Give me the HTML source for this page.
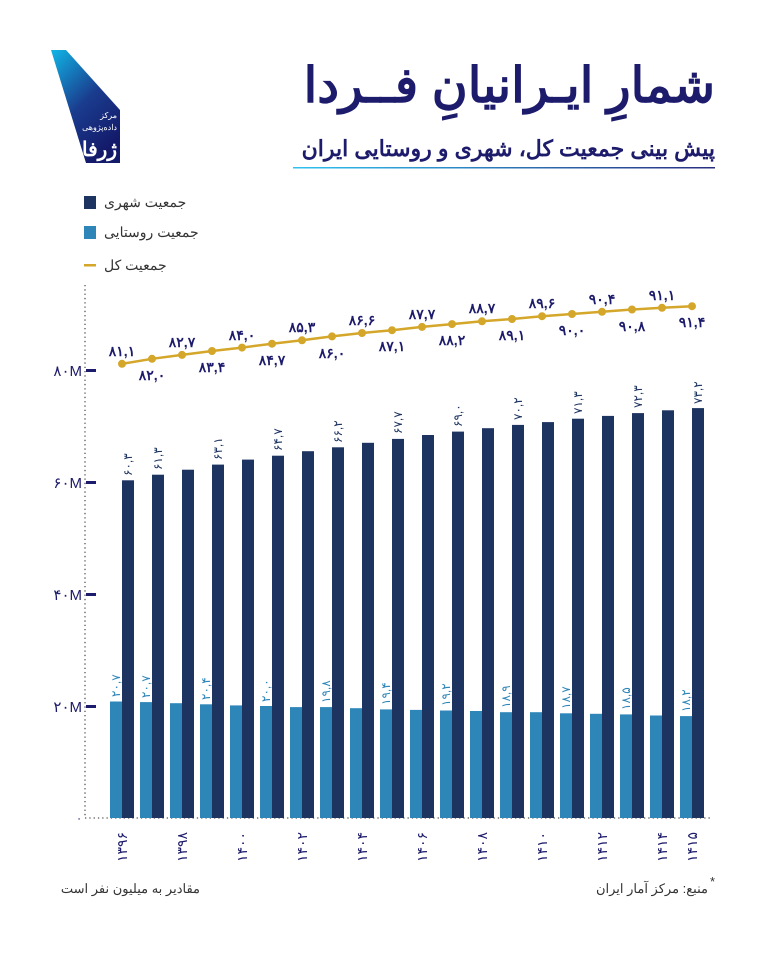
<!DOCTYPE html>
<html><head><meta charset="utf-8"><style>
body{margin:0;background:#fff;}
svg{display:block;font-family:"Liberation Sans","Noto Sans CJK SC",sans-serif;}
</style></head><body>
<svg width="768" height="960" viewBox="0 0 768 960" xmlns="http://www.w3.org/2000/svg">
<defs>
<linearGradient id="lg" x1="0" y1="0" x2="0.6" y2="1"><stop offset="0" stop-color="#10b6e6"/><stop offset="0.55" stop-color="#1a3c8e"/><stop offset="1" stop-color="#141a6a"/></linearGradient>
<linearGradient id="ul" x1="0" x2="1"><stop offset="0" stop-color="#2fc3ef"/><stop offset="1" stop-color="#2a2d80"/></linearGradient>
</defs>
<rect width="768" height="960" fill="#fff"/>
<polygon points="51,50 66,50 120,110 120,163 86,163" fill="url(#lg)"/>
<text x="117" y="118" font-size="8" fill="#fff" text-anchor="end">مرکز</text>
<text x="117" y="130" font-size="8" fill="#fff" text-anchor="end">داده‌پژوهی</text>
<text x="117" y="156" font-size="20" font-weight="bold" fill="#fff" text-anchor="end">ژرفا</text>
<text x="715" y="102" font-size="49" font-weight="bold" fill="#1d1b6b" text-anchor="end">شمارِ ایـرانیانِ فــردا</text>
<text x="715" y="156" font-size="22" font-weight="bold" fill="#1d1b6b" text-anchor="end">پیش بینی جمعیت کل، شهری و روستایی ایران</text>
<rect x="293" y="167" width="422" height="1.5" fill="url(#ul)"/>
<rect x="84" y="196" width="12" height="13" fill="#1d3461"/>
<text x="104" y="207" font-size="14" fill="#333">جمعیت شهری</text>
<rect x="84" y="226" width="12" height="13" fill="#2e86b8"/>
<text x="104" y="237" font-size="14" fill="#333">جمعیت روستایی</text>
<rect x="84" y="264" width="12" height="2.5" fill="#d4a62a"/>
<text x="104" y="270" font-size="14" fill="#333">جمعیت کل</text>
<line x1="85" y1="285" x2="85" y2="818" stroke="#555" stroke-width="1.3" stroke-dasharray="1.3,3"/>
<line x1="85" y1="818" x2="712" y2="818" stroke="#555" stroke-width="1.3" stroke-dasharray="1.3,3"/>
<g fill="#1d1b6b" font-size="15" text-anchor="end">
<rect x="86" y="369" width="10" height="3"/><text x="82" y="376">۸۰M</text>
<rect x="86" y="481" width="10" height="3"/><text x="82" y="488">۶۰M</text>
<rect x="86" y="593" width="10" height="3"/><text x="82" y="600">۴۰M</text>
<rect x="86" y="705" width="10" height="3"/><text x="82" y="712">۲۰M</text>
<text x="82" y="822" font-size="11">۰</text>
</g>
<g fill="#2e86b8">
<rect x="110" y="701.5" width="12" height="116.5"/><rect x="140" y="702.1" width="12" height="115.9"/><rect x="170" y="703.2" width="12" height="114.8"/><rect x="200" y="704.3" width="12" height="113.7"/><rect x="230" y="705.4" width="12" height="112.6"/><rect x="260" y="706" width="12" height="112"/><rect x="290" y="707.1" width="12" height="110.9"/><rect x="320" y="707.1" width="12" height="110.9"/><rect x="350" y="708.2" width="12" height="109.8"/><rect x="380" y="709.4" width="12" height="108.6"/><rect x="410" y="709.9" width="12" height="108.1"/><rect x="440" y="710.5" width="12" height="107.5"/><rect x="470" y="711" width="12" height="107"/><rect x="500" y="712.2" width="12" height="105.8"/><rect x="530" y="712.2" width="12" height="105.8"/><rect x="560" y="713.3" width="12" height="104.7"/><rect x="590" y="713.8" width="12" height="104.2"/><rect x="620" y="714.4" width="12" height="103.6"/><rect x="650" y="715.5" width="12" height="102.5"/><rect x="680" y="716.1" width="12" height="101.9"/>
</g>
<g fill="#1d3461">
<rect x="122" y="480.3" width="12" height="337.7"/><rect x="152" y="474.7" width="12" height="343.3"/><rect x="182" y="469.7" width="12" height="348.3"/><rect x="212" y="464.6" width="12" height="353.4"/><rect x="242" y="459.6" width="12" height="358.4"/><rect x="272" y="455.7" width="12" height="362.3"/><rect x="302" y="451.2" width="12" height="366.8"/><rect x="332" y="447.3" width="12" height="370.7"/><rect x="362" y="442.8" width="12" height="375.2"/><rect x="392" y="438.9" width="12" height="379.1"/><rect x="422" y="435" width="12" height="383"/><rect x="452" y="431.6" width="12" height="386.4"/><rect x="482" y="428.2" width="12" height="389.8"/><rect x="512" y="424.9" width="12" height="393.1"/><rect x="542" y="422.1" width="12" height="395.9"/><rect x="572" y="418.7" width="12" height="399.3"/><rect x="602" y="415.9" width="12" height="402.1"/><rect x="632" y="413.1" width="12" height="404.9"/><rect x="662" y="410.3" width="12" height="407.7"/><rect x="692" y="408.1" width="12" height="409.9"/>
</g>
<g fill="#1d3461" font-size="12">
<text transform="translate(132,476) rotate(-90)">۶۰,۳</text>
<text transform="translate(162,470) rotate(-90)">۶۱,۳</text>
<text transform="translate(222,460) rotate(-90)">۶۳,۱</text>
<text transform="translate(282,451) rotate(-90)">۶۴,۷</text>
<text transform="translate(342,443) rotate(-90)">۶۶,۲</text>
<text transform="translate(402,434) rotate(-90)">۶۷,۷</text>
<text transform="translate(462,427) rotate(-90)">۶۹,۰</text>
<text transform="translate(522,420) rotate(-90)">۷۰,۲</text>
<text transform="translate(582,414) rotate(-90)">۷۱,۳</text>
<text transform="translate(642,408) rotate(-90)">۷۲,۳</text>
<text transform="translate(702,404) rotate(-90)">۷۳,۲</text>
</g>
<g fill="#2e86b8" font-size="12">
<text transform="translate(120,697) rotate(-90)">۲۰,۷</text>
<text transform="translate(150,698) rotate(-90)">۲۰,۷</text>
<text transform="translate(210,700) rotate(-90)">۲۰,۴</text>
<text transform="translate(270,702) rotate(-90)">۲۰,۰</text>
<text transform="translate(330,703) rotate(-90)">۱۹,۸</text>
<text transform="translate(390,705) rotate(-90)">۱۹,۴</text>
<text transform="translate(450,706) rotate(-90)">۱۹,۲</text>
<text transform="translate(510,708) rotate(-90)">۱۸,۹</text>
<text transform="translate(570,709) rotate(-90)">۱۸,۷</text>
<text transform="translate(630,710) rotate(-90)">۱۸,۵</text>
<text transform="translate(690,712) rotate(-90)">۱۸,۲</text>
</g>
<polyline fill="none" stroke="#d4a62a" stroke-width="2.5" points="122,363.8 152,358.8 182,354.9 212,351 242,347.6 272,343.7 302,340.3 332,336.4 362,333 392,330.2 422,326.9 452,324.1 482,321.3 512,319 542,316.2 572,314 602,311.8 632,309.5 662,307.8 692,306.2"/>
<g fill="#d4a62a">
<circle cx="122" cy="363.8" r="4"/><circle cx="152" cy="358.8" r="4"/><circle cx="182" cy="354.9" r="4"/><circle cx="212" cy="351" r="4"/><circle cx="242" cy="347.6" r="4"/><circle cx="272" cy="343.7" r="4"/><circle cx="302" cy="340.3" r="4"/><circle cx="332" cy="336.4" r="4"/><circle cx="362" cy="333" r="4"/><circle cx="392" cy="330.2" r="4"/><circle cx="422" cy="326.9" r="4"/><circle cx="452" cy="324.1" r="4"/><circle cx="482" cy="321.3" r="4"/><circle cx="512" cy="319" r="4"/><circle cx="542" cy="316.2" r="4"/><circle cx="572" cy="314" r="4"/><circle cx="602" cy="311.8" r="4"/><circle cx="632" cy="309.5" r="4"/><circle cx="662" cy="307.8" r="4"/><circle cx="692" cy="306.2" r="4"/>
</g>
<g fill="#1d1b6b" font-size="14" font-weight="bold" text-anchor="middle">
<text x="122" y="356">۸۱,۱</text><text x="152" y="380">۸۲,۰</text>
<text x="182" y="347">۸۲,۷</text><text x="212" y="372">۸۳,۴</text>
<text x="242" y="340">۸۴,۰</text><text x="272" y="365">۸۴,۷</text>
<text x="302" y="332">۸۵,۳</text><text x="332" y="358">۸۶,۰</text>
<text x="362" y="325">۸۶,۶</text><text x="392" y="351">۸۷,۱</text>
<text x="422" y="319">۸۷,۷</text><text x="452" y="345">۸۸,۲</text>
<text x="482" y="313">۸۸,۷</text><text x="512" y="340">۸۹,۱</text>
<text x="542" y="308">۸۹,۶</text><text x="572" y="335">۹۰,۰</text>
<text x="602" y="304">۹۰,۴</text><text x="632" y="331">۹۰,۸</text>
<text x="662" y="300">۹۱,۱</text><text x="692" y="327">۹۱,۴</text>
</g>
<g fill="#1d1b6b" font-size="14">
<text transform="translate(127,862) rotate(-90)">۱۳۹۶</text>
<text transform="translate(187,862) rotate(-90)">۱۳۹۸</text>
<text transform="translate(247,862) rotate(-90)">۱۴۰۰</text>
<text transform="translate(307,862) rotate(-90)">۱۴۰۲</text>
<text transform="translate(367,862) rotate(-90)">۱۴۰۴</text>
<text transform="translate(427,862) rotate(-90)">۱۴۰۶</text>
<text transform="translate(487,862) rotate(-90)">۱۴۰۸</text>
<text transform="translate(547,862) rotate(-90)">۱۴۱۰</text>
<text transform="translate(607,862) rotate(-90)">۱۴۱۲</text>
<text transform="translate(667,862) rotate(-90)">۱۴۱۴</text>
<text transform="translate(697,862) rotate(-90)">۱۴۱۵</text>
</g>
<text x="200" y="893" font-size="13" fill="#333" text-anchor="end">مقادیر به میلیون نفر است</text>
<text x="708" y="893" font-size="13" fill="#333" text-anchor="end">منبع: مرکز آمار ایران</text>
<text x="710" y="886" font-size="13" fill="#333">*</text>
</svg>
</body></html>
